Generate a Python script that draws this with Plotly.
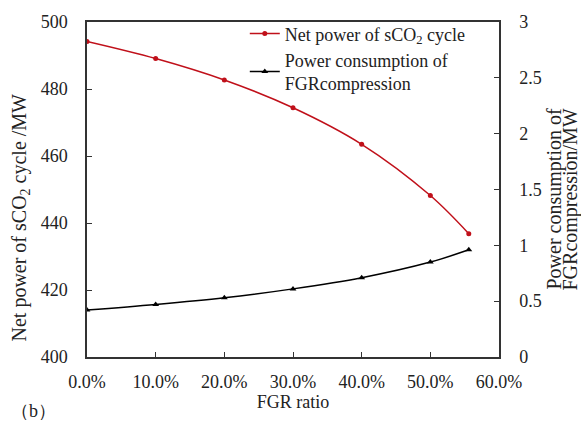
import plotly.graph_objects as go

fgr_ratio = [0.0, 0.10, 0.20, 0.30, 0.40, 0.50, 0.556]
net_power = [494.2, 489.1, 482.7, 474.4, 463.5, 448.2, 436.8]
fgr_power = [0.42, 0.47, 0.53, 0.61, 0.71, 0.85, 0.96]

left_ticks = [400, 420, 440, 460, 480, 500]
right_ticks = [0, 0.5, 1, 1.5, 2, 2.5, 3]
right_tick_text = ["0", "0.5", "1", "1.5", "2", "2.5", "3"]
x_ticks = [0.0, 0.1, 0.2, 0.3, 0.4, 0.5, 0.6]
x_tick_text = ["0.0%", "10.0%", "20.0%", "30.0%", "40.0%", "50.0%", "60.0%"]
left_title = "Net power of sCO<sub>2</sub> cycle /MW"
right_title_lines = ["Power consumption of", "FGRcompression/MW"]

FONT = "Liberation Serif"
FS = 18
TFS = 20
RED = "#C0101A"
TXT = "#222222"

fig = go.Figure()
fig.add_trace(go.Scatter(
    x=fgr_ratio, y=net_power, mode="lines+markers",
    name="Net power of sCO<sub>2</sub> cycle",
    line=dict(color=RED, width=1.5, shape="spline"),
    marker=dict(symbol="circle", size=5, color=RED),
))
fig.add_trace(go.Scatter(
    x=fgr_ratio, y=fgr_power, mode="lines+markers",
    name="Power consumption of<br>FGRcompression",
    line=dict(color="black", width=1.5, shape="spline"),
    marker=dict(symbol="triangle-up", size=6, color="black"),
    yaxis="y2",
))

axis_common = dict(
    showline=True, linecolor="#333333", linewidth=1.5,
    ticks="inside", ticklen=5, tickcolor="#333333",
    showgrid=False, zeroline=False,
    tickfont=dict(family=FONT, size=FS, color=TXT),
)

fig.update_layout(
    width=581, height=421,
    margin=dict(l=87, r=82, t=17, b=61),
    paper_bgcolor="white", plot_bgcolor="white",
    font=dict(family=FONT, size=FS, color=TXT),
    xaxis=dict(
        range=[0, 0.6], tickvals=x_ticks, ticktext=x_tick_text,
        ticklabelstandoff=8,
        title=dict(text="FGR ratio", font=dict(family=FONT, size=FS), standoff=4),
        mirror=True, **axis_common,
    ),
    yaxis=dict(
        range=[400, 500], tickvals=left_ticks,
        ticklabelstandoff=14,
        **axis_common,
    ),
    yaxis2=dict(
        range=[0, 3], tickvals=right_ticks, ticktext=right_tick_text,
        ticklabelstandoff=15,
        overlaying="y", side="right",
        **axis_common,
    ),
    legend=dict(
        x=0.383, y=1.02, xanchor="left", yanchor="top",
        bgcolor="rgba(0,0,0,0)", borderwidth=0,
        font=dict(family=FONT, size=FS, color=TXT),
        tracegroupgap=0,
    ),
    showlegend=True,
)

fig.add_annotation(
    text=left_title, x=0, y=0.5, xref="paper", yref="paper",
    xanchor="center", yanchor="middle", showarrow=False, textangle=-90,
    xshift=-67, yshift=-28,
    font=dict(family=FONT, size=TFS, color=TXT),
)

for i, line_text in enumerate(right_title_lines):
    fig.add_annotation(
        text=line_text, x=1, y=0.5, xref="paper", yref="paper",
        xanchor="center", yanchor="middle", showarrow=False, textangle=-90,
        xshift=55 + 16 * i, yshift=-10,
        font=dict(family=FONT, size=TFS, color=TXT),
    )

fig.add_annotation(
    text="（b）", x=0, y=0, xref="paper", yref="paper",
    xanchor="left", yanchor="top", showarrow=False,
    xshift=-78, yshift=-42,
    font=dict(family=FONT, size=FS, color=TXT),
)

fig.write_html("out.html")
